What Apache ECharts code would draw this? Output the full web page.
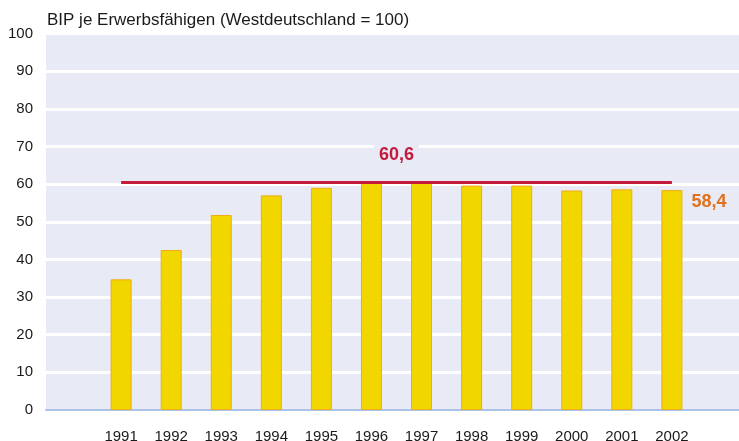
<!DOCTYPE html>
<html>
<head>
<meta charset="utf-8">
<script src="https://cdn.jsdelivr.net/npm/echarts@6/dist/echarts.min.js"></script>
<style>
  html, body { margin: 0; padding: 0; background: #fff; }
  #chart { width: 739px; height: 441px; }
</style>
</head>
<body>
<div id="chart"></div>
<script>
// BIP je Erwerbsfähigen, Ostdeutschland in % von Westdeutschland
var years = ['1991', '1992', '1993', '1994', '1995', '1996', '1997', '1998', '1999', '2000', '2001', '2002']
var bipValues = [34.7, 42.5, 51.8, 57.0, 59.0, 60.5, 60.6, 59.6, 59.6, 58.3, 58.6, 58.4]
var maxLevel = 60.6
var yTicks = [0, 10, 20, 30, 40, 50, 60, 70, 80, 90, 100]

// leere Kategorie links und rechts, damit die Säulen eingerückt sind
var categories = [''].concat(years, [''])
var barData = [null].concat(bipValues, [null])

function deNum(v) {
  return String(v).replace('.', ',')
}

var chart = echarts.init(document.getElementById('chart'))

var lastIdx = barData.length - 2
var option = {
  animation: false,
  title: {
    text: 'BIP je Erwerbsfähigen (Westdeutschland = 100)',
    left: 42,
    top: 7,
    textStyle: {
      fontFamily: 'Liberation Sans',
      fontSize: 17,
      fontWeight: 'normal',
      color: '#1a1a1a'
    }
  },
  grid: {
    show: true,
    backgroundColor: '#e8eaf6',
    borderWidth: 0,
    left: 46,
    top: 33.5,
    width: 701,
    height: 376.5,
    outerBoundsMode: 'none'
  },
  xAxis: {
    type: 'category',
    data: categories,
    axisLine: { lineStyle: { color: '#a9c4e4', width: 2 } },
    axisTick: { show: false },
    axisLabel: {
      margin: 19,
      fontFamily: 'Liberation Sans',
      fontSize: 15,
      color: '#1a1a1a'
    }
  },
  yAxis: {
    type: 'value',
    min: yTicks[0],
    max: yTicks[yTicks.length - 1],
    interval: 10,
    axisLine: { show: false },
    axisTick: { show: false },
    axisLabel: {
      margin: 13,
      fontFamily: 'Liberation Sans',
      fontSize: 15,
      color: '#1a1a1a'
    },
    splitLine: { lineStyle: { color: '#ffffff', width: 3 } }
  },
  series: [
    {
      type: 'bar',
      data: barData.map(function (v, i) {
        if (i !== lastIdx) return v
        return {
          value: v,
          label: {
            show: true,
            position: [30, 3],
            formatter: function (p) { return deNum(p.value) },
            fontFamily: 'Liberation Sans',
            fontSize: 18,
            fontWeight: 'bold',
            color: '#e2711d'
          }
        }
      }),
      barWidth: 21,
      itemStyle: {
        color: '#f2d600',
        borderColor: '#f0ac14',
        borderWidth: 1
      },
      z: 2,
      markLine: {
        silent: true,
        symbol: 'none',
        animation: false,
        lineStyle: { color: '#c41a3b', width: 3, type: 'solid' },
        label: {
          show: true,
          position: 'middle',
          distance: 16,
          formatter: deNum(maxLevel),
          fontFamily: 'Liberation Sans',
          fontSize: 18,
          fontWeight: 'bold',
          color: '#c41a3b',
          backgroundColor: '#e8eaf6',
          padding: [2, 5]
        },
        data: [[
          { coord: [years[0], maxLevel] },
          { coord: [years[years.length - 1], maxLevel] }
        ]]
      }
    }
  ]
}
chart.setOption(option)
</script>
</body>
</html>
